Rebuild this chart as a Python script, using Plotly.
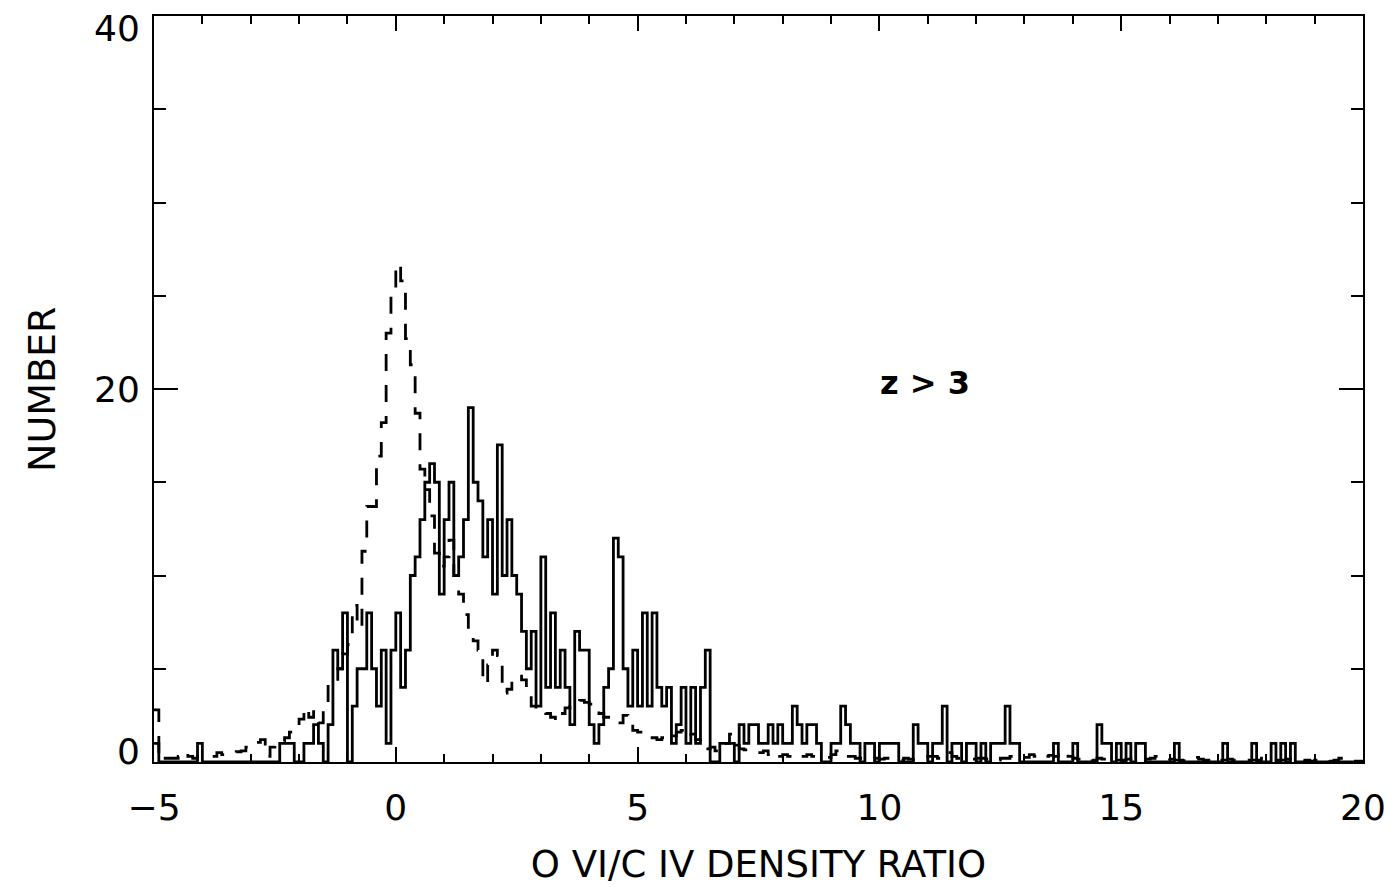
import plotly.graph_objects as go

# ---------------- data ----------------
BIN_START = -5.0     # left edge of first bin
BIN_WIDTH = 0.1      # histogram bin width

# observed counts (solid histogram), one value per 0.1 bin from -5 to 20
observed = [
    1, 0, 0, 0, 0, 0, 0, 0, 0, 1,                 # -5.0 .. -4.1
    0, 0, 0, 0, 0, 0, 0, 0, 0, 0,                 # -4.0 .. -3.1
    0, 0, 0, 0, 0, 0, 1, 1, 1, 0,                 # -3.0 .. -2.1
    0, 1, 1, 2, 1, 0, 2, 6, 5, 8,                 # -2.0 .. -1.1
    0, 3, 5, 5, 8, 5, 3, 6, 1, 6,                 # -1.0 .. -0.1
    8, 4, 6, 10, 11, 13, 15, 16, 15, 9,           #  0.0 ..  0.9
    13, 15, 10, 11, 13, 19, 15, 14, 11, 13,       #  1.0 ..  1.9
    9, 17, 10, 13, 10, 9, 7, 5, 7, 3,             #  2.0 ..  2.9
    11, 4, 8, 4, 6, 4, 2, 7, 6, 6,                #  3.0 ..  3.9
    2, 1, 2, 4, 5, 12, 11, 5, 3, 6,               #  4.0 ..  4.9
    3, 8, 3, 8, 4, 3, 4, 1, 2, 4,                 #  5.0 ..  5.9
    1, 4, 1, 4, 6, 0, 0, 1, 1, 1,                 #  6.0 ..  6.9
    0, 2, 1, 2, 2, 1, 1, 2, 1, 2,                 #  7.0 ..  7.9
    1, 1, 3, 2, 1, 2, 2, 1, 0, 0,                 #  8.0 ..  8.9
    1, 1, 3, 2, 1, 1, 0, 1, 1, 0,                 #  9.0 ..  9.9
    1, 1, 1, 1, 0, 0, 0, 2, 1, 1,                 # 10.0 .. 10.9
    0, 1, 1, 3, 0, 1, 1, 0, 1, 1,                 # 11.0 .. 11.9
    0, 1, 0, 1, 1, 1, 3, 1, 1, 0,                 # 12.0 .. 12.9
    0, 0, 0, 0, 0, 0, 1, 0, 0, 0,                 # 13.0 .. 13.9
    1, 0, 0, 0, 0, 2, 1, 1, 0, 1,                 # 14.0 .. 14.9
    0, 1, 0, 1, 1, 0, 0, 0, 0, 0,                 # 15.0 .. 15.9
    0, 1, 0, 0, 0, 0, 0, 0, 0, 0,                 # 16.0 .. 16.9
    0, 1, 0, 0, 0, 0, 0, 1, 0, 0,                 # 17.0 .. 17.9
    0, 1, 0, 1, 0, 1, 0, 0, 0, 0,                 # 18.0 .. 18.9
    0, 0, 0, 0, 0, 0, 0, 0, 0, 0,                 # 19.0 .. 19.9
]

# scaled model distribution (dashed histogram), same bins
model = [
    2.8, 0.1, 0.2, 0.2, 0.2, 0.3, 0.5, 0.3, 0.2, 0.3,
    0.3, 0.3, 0.3, 0.5, 0.4, 0.4, 0.4, 0.55, 0.6, 0.8,
    1.0, 1.05, 1.2, 0.3, 0.8, 1.1, 1.1, 1.3, 1.6, 1.6,
    2.3, 2.9, 2.4, 2.7, 2.1, 3.2, 4.2, 4.3, 5.0, 5.8,
    6.3, 8.4, 7.2, 11.3, 13.7, 13.7, 16.4, 18.2, 23.0, 25.3,
    26.7, 25.8, 22.7, 21.3, 18.7, 15.7, 14.6, 13.2, 11.2, 10.5,
    11.0, 11.9, 10.0, 9.0, 7.9, 6.7, 6.5, 6.0, 4.2, 5.2,
    6.0, 5.7, 3.7, 3.9, 4.3, 4.6, 4.4, 3.6, 3.0, 2.8,
    2.8, 2.6, 2.4, 2.2, 2.6, 2.9, 3.0, 3.2, 3.3, 3.2,
    3.1, 2.8, 2.6, 2.4, 2.3, 2.2, 2.1, 2.5, 2.3, 1.7,
    1.6, 1.5, 1.4, 1.3, 1.2, 1.3, 1.2, 1.4, 1.6, 1.7,
    1.8, 1.5, 1.2, 0.8, 0.7, 0.8, 0.6, 0.7, 1.0, 1.5,
    0.9, 0.7, 0.65, 0.6, 0.5, 0.5, 0.6, 0.4, 0.5, 0.3,
    0.4, 0.3, 0.4, 0.3, 0.3, 0.4, 0.3, 0.3, 0.25, 0.25,
    0.4, 0.6, 0.5, 0.3, 0.3, 0.2, 0.2, 0.2, 0.15, 0.2,
    0.15, 0.2, 0.2, 0.15, 0.1, 0.2, 0.15, 0.1, 0.1, 0.2,
    0.3, 0.3, 0.2, 0.3, 0.5, 0.3, 0.2, 0.2, 0.2, 0.15,
    0.2, 0.2, 0.15, 0.2, 0.1, 0.2, 0.2, 0.3, 0.3, 0.2,
    0.25, 0.4, 0.3, 0.2, 0.3, 0.35, 0.3, 0.55, 0.5, 0.3,
    0.2, 0.15, 0.15, 0.2, 0.1, 0.2, 0.15, 0.1, 0.15, 0.1,
    0.1, 0.15, 0.2, 0.1, 0.1, 0.15, 0.2, 0.3, 0.3, 0.2,
    0.15, 0.1, 0.1, 0.2, 0.25, 0.25, 0.15, 0.1, 0.1, 0.2,
    0.1, 0.1, 0.15, 0.1, 0.1, 0.15, 0.1, 0.1, 0.1, 0.2,
    0.2, 0.1, 0.1, 0.1, 0.15, 0.1, 0.1, 0.05, 0.1, 0.05,
    0.1, 0.15, 0.1, 0.05, 0.1, 0.2, 0.2, 0.1, 0.05, 0.05,
]

x_tick_vals = [-5, 0, 5, 10, 15, 20]
y_tick_vals = [0, 20, 40]
y_tick_text = ["0", "20", "40"]
x_title = "O VI/C IV DENSITY RATIO"
y_title = "NUMBER"
label_text = "z > 3"

# ---------------- build step outlines ----------------
def step_xy(values):
    edges = [BIN_START + BIN_WIDTH * i for i in range(len(values) + 1)]
    xs = edges[:-1] + [edges[-1]]
    ys = list(values) + [values[-1]]
    return xs, ys

FONT = "DejaVu Sans"

fig = go.Figure()
xm, ym = step_xy(model)
fig.add_trace(go.Scatter(x=xm, y=ym, mode="lines", line_shape="hv",
                         line=dict(color="black", width=2.8, dash="17px,14px"),
                         showlegend=False, hoverinfo="skip"))
xo, yo = step_xy(observed)
fig.add_trace(go.Scatter(x=xo, y=yo, mode="lines", line_shape="hv",
                         line=dict(color="black", width=2.8),
                         showlegend=False, hoverinfo="skip"))

fig.add_annotation(x=10.95, y=20.3, xref="x", yref="y",
                   text="<b>" + label_text.replace(">", "&gt;") + "</b>",
                   showarrow=False, font=dict(family=FONT, size=32, color="black"))

# y tick labels kept inside the figure (end labels nudged inward, as in the reference)
label_shift = {0: 11, 20: 0, 40: -12}
for v, t in zip(y_tick_vals, y_tick_text):
    fig.add_annotation(x=0, xref="paper", y=v, yref="y", text=t, showarrow=False,
                       xanchor="right", yanchor="middle", xshift=-12, yshift=label_shift[v],
                       font=dict(family=FONT, size=36, color="black"))

axis_common = dict(showline=True, linecolor="black", linewidth=2, mirror="ticks",
                   ticks="inside", tickcolor="black", tickwidth=1.5,
                   showgrid=False, zeroline=False,
                   tickfont=dict(family=FONT, size=36, color="black"))

fig.update_xaxes(range=[-5, 20], tickvals=x_tick_vals, ticklen=15,
                 minor=dict(dtick=1, ticklen=8, ticks="inside", tickcolor="black", tickwidth=1.5, showgrid=False),
                 title=dict(text=x_title, font=dict(family=FONT, size=37, color="black"), standoff=24),
                 ticklabelstandoff=13, ticklabeloverflow="allow",
                 **axis_common)
fig.update_yaxes(range=[0, 40], tickvals=y_tick_vals, ticklen=24, showticklabels=False,
                 minor=dict(dtick=5, ticklen=12, ticks="inside", tickcolor="black", tickwidth=1.5, showgrid=False),
                 **axis_common)

fig.add_annotation(x=0, xref="paper", xshift=-112, y=0.5, yref="paper", text=y_title,
                   textangle=-90, showarrow=False, xanchor="center", yanchor="middle",
                   font=dict(family=FONT, size=38, color="black"))

fig.update_layout(width=1397, height=895, paper_bgcolor="white", plot_bgcolor="white",
                  margin=dict(l=154, r=34, t=16, b=133, autoexpand=False))

fig.write_html("out.html")
